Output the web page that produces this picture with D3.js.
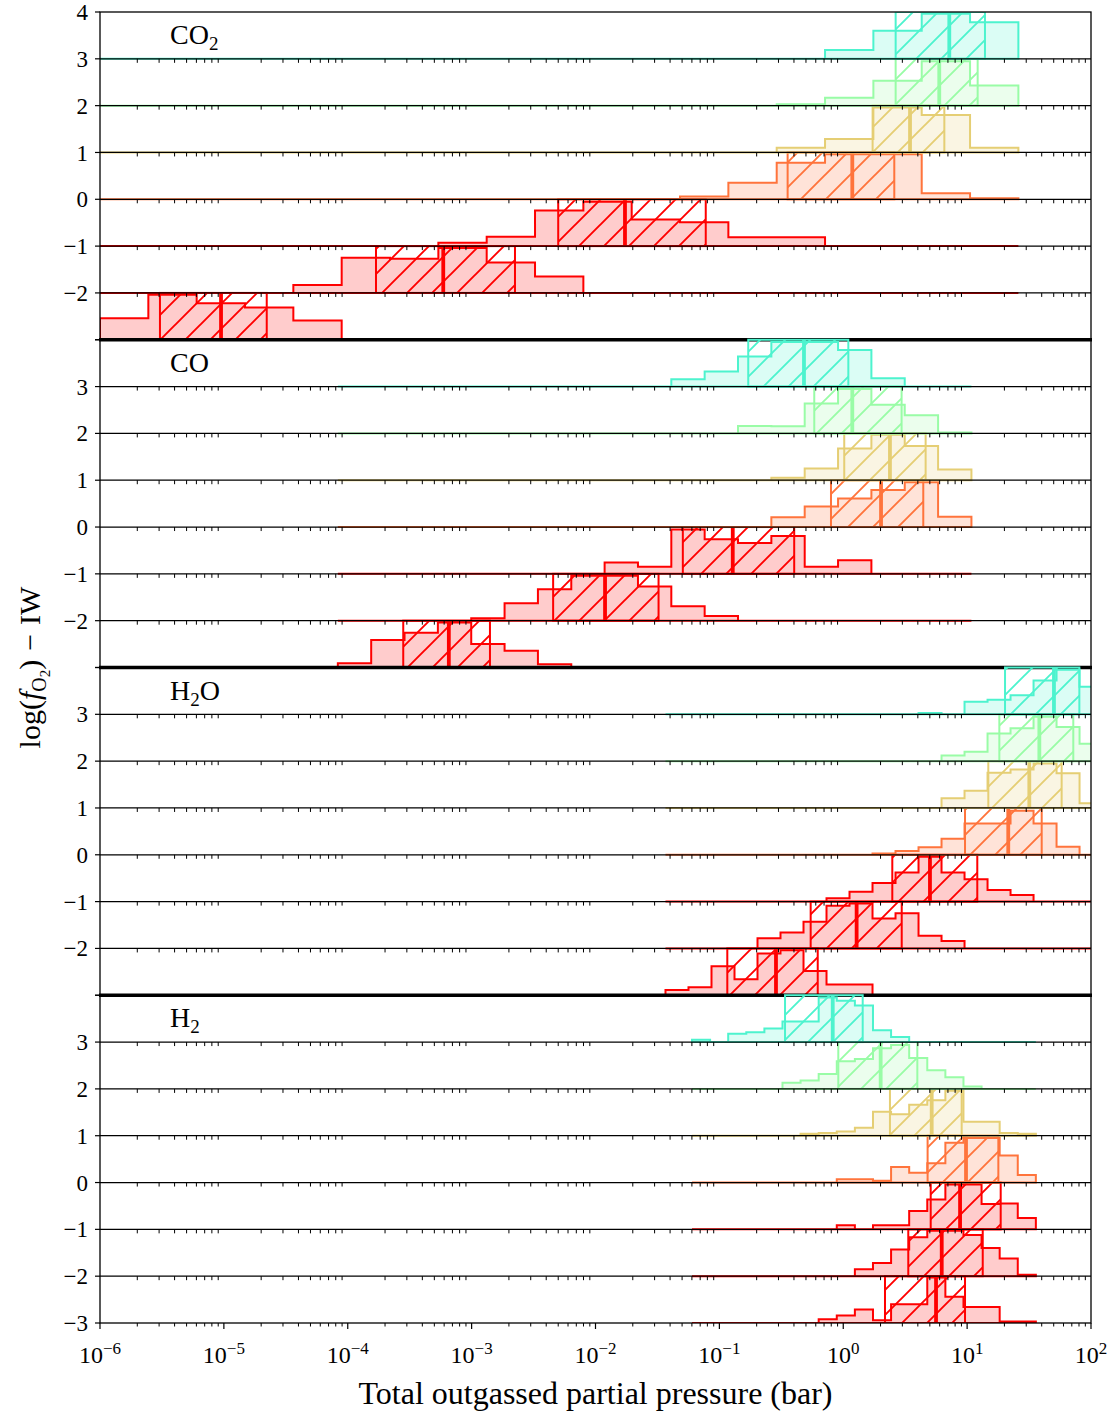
<!DOCTYPE html>
<html>
<head>
<meta charset="utf-8">
<script src="https://cdn.jsdelivr.net/npm/d3@7"></script>
<style>
	body { margin: 0; background: #fff; }
	svg text { font-family: "Liberation Serif", "DejaVu Serif", serif; fill: #000; }
</style>
</head>
<body>
<script>
	// panels top to bottom, ridges bottom to top (log fO2 - IW)
	var species = [["CO", "2", ""], ["CO", "", ""], ["H", "2", "O"], ["H", "2", ""]];
	var fo2 = [-3, -2, -1, 0, 1, 2, 3];
	var xTicks = [-6, -5, -4, -3, -2, -1, 0, 1, 2];

	// histogram bins per species: log10 of first edge, width in dex, count
	var binLo = [-6.0, -4.080, -1.435, -1.221];
	var binW = [0.3902, 0.2692, 0.1857, 0.1461];
	var binN = [19, 19, 19, 19];

	// first non-empty bin, bin heights (fraction of a row), quartiles (log10 bar)
	var co2Start = [0, 4, 7, 12, 14, 14, 15];
	var co2Hist = [
		[0.46, 0.96, 0.78, 0.69, 0.41],
		[0.17, 0.75, 0.73, 0.96, 0.65, 0.35],
		[0.07, 0.20, 0.76, 0.95, 0.57, 0.51, 0.19, 0.19],
		[0.06, 0.355, 0.78, 0.96, 0.96, 0.13, 0.02],
		[0.10, 0.29, 0.96, 0.80, 0.10],
		[0.03, 0.17, 0.53, 0.95, 0.43],
		[0.19, 0.60, 0.96, 0.78]
	];
	var co2Quart = [
		[-5.516, -5.023, -4.654], [-3.772, -3.229, -2.650], [-2.301, -1.762, -1.110],
		[-0.449, 0.073, 0.412], [0.237, 0.539, 0.816], [0.423, 0.775, 1.085], [0.423, 0.856, 1.144]
	];

	var coStart = [0, 4, 8, 13, 13, 12, 10];
	var coHist = [
		[0.09, 0.59, 0.74, 0.96, 0.50, 0.36, 0.07],
		[0.05, 0.37, 0.67, 0.96, 0.96, 0.73, 0.31, 0.10],
		[0.24, 0.15, 0.95, 0.74, 0.66, 0.81, 0.15, 0.29],
		[0.21, 0.44, 0.61, 0.79, 0.955, 0.22],
		[0.05, 0.25, 0.68, 0.97, 0.73, 0.23],
		[0.16, 0.15, 0.64, 0.95, 0.61, 0.39, 0.02],
		[0.155, 0.32, 0.64, 0.95, 0.95, 0.78, 0.18]
	];
	var coQuart = [
		[-3.552, -3.184, -2.852], [-2.342, -1.923, -1.491], [-1.295, -0.892, -0.396],
		[-0.099, 0.305, 0.646], [0.008, 0.377, 0.665], [-0.234, 0.073, 0.471], [-0.767, -0.317, 0.041]
	];

	var h2oStart = [0, 4, 7, 9, 12, 12, 11];
	var h2oHist = [
		[0.11, 0.17, 0.62, 0.34, 0.89, 0.96, 0.52, 0.23, 0.23],
		[0.22, 0.34, 0.57, 0.91, 0.96, 0.64, 0.75, 0.27, 0.16],
		[0.07, 0.21, 0.40, 0.62, 0.96, 0.62, 0.48, 0.25, 0.14],
		[0.03, 0.08, 0.16, 0.34, 0.67, 0.67, 0.94, 0.67, 0.17],
		[0.21, 0.37, 0.75, 0.82, 0.95, 0.74, 0.10],
		[0.12, 0.20, 0.59, 0.70, 0.95, 0.73, 0.37],
		[0.03, 0.0, 0.27, 0.31, 0.41, 0.72, 0.95, 0.59]
	];
	var h2oQuart = [
		[-0.936, -0.543, -0.206], [-0.263, 0.108, 0.472], [0.396, 0.700, 1.082],
		[0.983, 1.332, 1.602], [1.171, 1.502, 1.763], [1.260, 1.583, 1.857], [1.306, 1.701, 1.906]
	];

	var h2Start = [7, 9, 8, 8, 6, 5, 0];
	var h2Hist = [
		[0.08, 0.16, 0.29, 0.06, 0.40, 0.40, 0.97, 0.56, 0.34, 0.34, 0.03, 0.03],
		[0.15, 0.28, 0.57, 0.83, 0.97, 0.97, 0.88, 0.60, 0.38, 0.03],
		[0.09, 0.0, 0.09, 0.09, 0.39, 0.64, 0.96, 0.96, 0.54, 0.55, 0.24],
		[0.07, 0.07, 0.04, 0.33, 0.21, 0.41, 0.85, 0.95, 0.95, 0.58, 0.16],
		[0.04, 0.06, 0.09, 0.17, 0.51, 0.46, 0.66, 0.76, 0.96, 0.30, 0.30, 0.06, 0.04],
		[0.13, 0.18, 0.32, 0.59, 0.64, 0.87, 0.94, 0.66, 0.40, 0.25, 0.05],
		[0.05, 0.0, 0.18, 0.21, 0.29, 0.44, 0.44, 0.95, 0.88, 0.78, 0.25, 0.11]
	];
	var h2Quart = [
		[0.337, 0.749, 0.983], [0.525, 0.795, 1.126], [0.706, 0.943, 1.271],
		[0.681, 0.991, 1.252], [0.377, 0.714, 0.956], [-0.040, 0.302, 0.598], [-0.470, -0.085, 0.157]
	];

	var starts = [co2Start, coStart, h2oStart, h2Start];
	var hists = [co2Hist, coHist, h2oHist, h2Hist];
	var quarts = [co2Quart, coQuart, h2oQuart, h2Quart];

	var w = 1111, h = 1414;
	var plotL = 100, plotR = 1091, plotT = 12, plotB = 1323;
	var panelH = (plotB - plotT) / species.length;

	var svg = d3.select("body").append("svg")
		.attr("width", w)
		.attr("height", h);

	var x = d3.scaleLog().domain([1e-6, 1e2]).range([plotL, plotR]);

	// gnuplot-style rainbow map, level -> colour
	function rainbow(t) {
		var r = Math.min(1, Math.abs(2 * t - 0.5));
		var g = Math.max(0, Math.sin(Math.PI * t));
		var b = Math.max(0, Math.cos(Math.PI * t / 2));
		return d3.rgb(r * 255, g * 255, b * 255).formatHex();
	}
	function levelColour(v) { return rainbow(Math.min(1, 0.85 - 0.15 * v)); }

	var defs = svg.append("defs");
	defs.append("clipPath").attr("id", "plotclip")
		.append("rect")
		.attr("x", plotL).attr("y", plotT)
		.attr("width", plotR - plotL).attr("height", plotB - plotT);

	var hs = 25; // hatch spacing
	fo2.forEach(function(v) {
		var pat = defs.append("pattern")
			.attr("id", "hatch" + (v + 3))
			.attr("patternUnits", "userSpaceOnUse")
			.attr("width", hs).attr("height", hs);
		pat.append("path")
			.attr("d", "M0," + hs + "L" + hs + ",0M-5,5L5,-5M" + (hs - 5) + "," + (hs + 5) + "L" + (hs + 5) + "," + (hs - 5))
			.attr("stroke", levelColour(v))
			.attr("stroke-width", 1.9)
			.attr("fill", "none");
	});

	var minorTicks = [];
	for (var d = -6; d < 2; d++) {
		for (var m = 2; m < 10; m++) minorTicks.push(m * Math.pow(10, d));
	}

	species.forEach(function(sp, p) {
		var y0 = plotT + p * panelH;
		var y = d3.scaleLinear().domain([-3, 4]).range([y0 + panelH, y0]);
		var g = svg.append("g").attr("clip-path", "url(#plotclip)");
		var line = d3.line()
			.x(function(d) { return x(Math.pow(10, d[0])); })
			.y(function(d) { return d[1]; });

		fo2.forEach(function(v, r) {
			var c = levelColour(v);
			var hh = hists[p][r], k0 = starts[p][r];
			var pts = [[binLo[p], y(v)]];
			for (var i = 0; i < binN[p]; i++) {
				var hv = (i >= k0 && i < k0 + hh.length) ? hh[i - k0] : 0;
				var e0 = binLo[p] + i * binW[p];
				pts.push([e0, y(v + hv)], [e0 + binW[p], y(v + hv)]);
			}
			pts.push([binLo[p] + binN[p] * binW[p], y(v)]);
			g.append("path")
				.attr("d", line(pts) + "Z")
				.attr("fill", c)
				.attr("fill-opacity", 0.2)
				.attr("stroke", c)
				.attr("stroke-width", 2)
				.attr("stroke-linejoin", "miter");

			var q = quarts[p][r];
			var xa = x(Math.pow(10, q[0])), xb = x(Math.pow(10, q[2])), xm = x(Math.pow(10, q[1]));
			g.append("rect")
				.attr("x", xa).attr("y", y(v + 1))
				.attr("width", xb - xa).attr("height", y(v) - y(v + 1))
				.attr("fill", "url(#hatch" + (v + 3) + ")")
				.attr("stroke", c)
				.attr("stroke-width", 2);
			g.append("line")
				.attr("x1", xm).attr("x2", xm)
				.attr("y1", y(v)).attr("y2", y(v + 1))
				.attr("stroke", c)
				.attr("stroke-width", 3.8);
		});

		// row lines with minor ticks hanging below
		for (var lv = -2; lv <= 3; lv++) {
			svg.append("line")
				.attr("x1", plotL).attr("x2", plotR)
				.attr("y1", y(lv)).attr("y2", y(lv))
				.attr("stroke", "#000").attr("stroke-width", 1.3);
			svg.selectAll(null).data(minorTicks).enter().append("line")
				.attr("x1", function(t) { return x(t); })
				.attr("x2", function(t) { return x(t); })
				.attr("y1", y(lv)).attr("y2", y(lv) + 4)
				.attr("stroke", "#000").attr("stroke-width", 1);
		}

		// y ticks and labels
		var lo = (p == species.length - 1) ? -3 : -2;
		var hi = (p == 0) ? 4 : 3;
		for (var tv = -3; tv <= 4; tv++) {
			svg.append("line")
				.attr("x1", plotL - 5).attr("x2", plotL)
				.attr("y1", y(tv)).attr("y2", y(tv))
				.attr("stroke", "#000").attr("stroke-width", 1.2);
			if (tv >= lo && tv <= hi) {
				svg.append("text")
					.attr("x", plotL - 12).attr("y", y(tv))
					.attr("dy", "0.35em")
					.attr("text-anchor", "end")
					.attr("font-size", 23)
					.text(tv < 0 ? "\u2212" + (-tv) : String(tv));
			}
		}

		// species label
		var lab = svg.append("text")
			.attr("x", 170).attr("y", y0 + 32)
			.attr("font-size", 28);
		lab.append("tspan").text(sp[0]);
		if (sp[1]) lab.append("tspan").attr("dy", 6).attr("font-size", 19).text(sp[1]);
		if (sp[2]) lab.append("tspan").attr("dy", -6).text(sp[2]);

		// panel separator
		if (p < species.length - 1) {
			svg.append("line")
				.attr("x1", plotL - 1).attr("x2", plotR + 1)
				.attr("y1", y(-3)).attr("y2", y(-3))
				.attr("stroke", "#000").attr("stroke-width", 3.5);
		}
	});

	// frame
	svg.append("rect")
		.attr("x", plotL).attr("y", plotT)
		.attr("width", plotR - plotL).attr("height", plotB - plotT)
		.attr("fill", "none").attr("stroke", "#000").attr("stroke-width", 1.3);

	// bottom axis
	svg.selectAll(null).data(minorTicks).enter().append("line")
		.attr("x1", function(t) { return x(t); })
		.attr("x2", function(t) { return x(t); })
		.attr("y1", plotB).attr("y2", plotB + 3.5)
		.attr("stroke", "#000").attr("stroke-width", 1);
	xTicks.forEach(function(e) {
		var xp = x(Math.pow(10, e));
		svg.append("line")
			.attr("x1", xp).attr("x2", xp)
			.attr("y1", plotB).attr("y2", plotB + 6)
			.attr("stroke", "#000").attr("stroke-width", 1.2);
		var t = svg.append("text")
			.attr("x", xp).attr("y", plotB + 40)
			.attr("text-anchor", "middle")
			.attr("font-size", 24);
		t.append("tspan").text("10");
		t.append("tspan").attr("dy", -9).attr("font-size", 17)
			.text(e < 0 ? "\u2212" + (-e) : String(e));
	});

	svg.append("text")
		.attr("x", (plotL + plotR) / 2).attr("y", 1404)
		.attr("text-anchor", "middle")
		.attr("font-size", 32)
		.text("Total outgassed partial pressure (bar)");

	var yl = svg.append("text")
		.attr("transform", "translate(40," + ((plotT + plotB) / 2) + ") rotate(-90)")
		.attr("text-anchor", "middle")
		.attr("font-size", 30);
	yl.append("tspan").text("log(");
	yl.append("tspan").attr("font-style", "italic").text("f");
	yl.append("tspan").attr("dy", 6).attr("font-size", 20).text("O");
	yl.append("tspan").attr("dy", 4).attr("font-size", 15).text("2");
	yl.append("tspan").attr("dy", -10).text(")");
	yl.append("tspan").attr("dx", 9).text("\u2212");
	yl.append("tspan").attr("dx", 9).text("IW");
</script>
</body>
</html>
